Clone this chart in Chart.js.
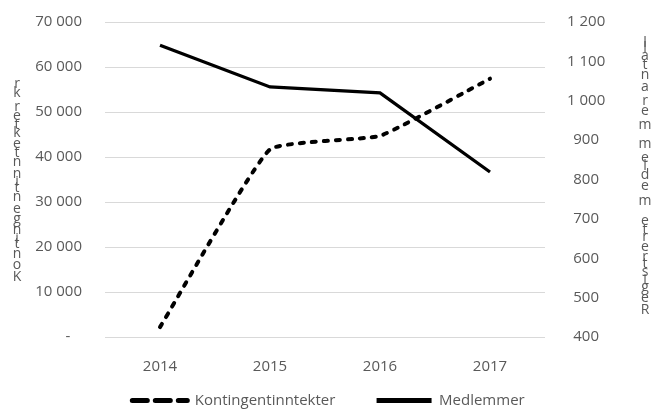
<!DOCTYPE html>
<html>
<head>
<meta charset="utf-8">
<script src="https://cdn.jsdelivr.net/npm/chart.js@4"></script>
<style>
  html, body { margin: 0; padding: 0; background: #fff; }
  #wrap { width: 657px; height: 411px; }
</style>
</head>
<body>
<div id="wrap"><canvas id="chart" width="657" height="411"></canvas></div>
<script>
// data
const years = ['2014', '2015', '2016', '2017'];
const kontingent = [2200, 41700, 44700, 57400];
const medlemmer = [1141, 1035, 1020, 819];

const leftTitle = 'Kontingentinntekter kr';
const rightTitle = 'Registrerte medlemmer antall';

const grey = '#595959';
const fontFamily = '"Open Sans", sans-serif';

function fmt(v) {
    if (v === 0) return '-   ';
    return String(v).replace(/\B(?=(\d{3})+(?!\d))/g, ' ');
}

// Excel style stacked axis titles (upright letters, read from bottom up)
const stackedTitles = {
    id: 'stackedTitles',
    afterDraw(chart) {
        const ctx = chart.ctx;
        const area = chart.chartArea;
        const mid = (area.top + area.bottom) / 2;
        ctx.save();
        ctx.font = '14px ' + fontFamily;
        ctx.fillStyle = grey;
        ctx.textAlign = 'center';
        ctx.textBaseline = 'middle';
        const drawStack = (text, x, span, shift) => {
            const chars = text.split('');
            const widths = chars.map(c => ctx.measureText(c).width);
            const k = span / widths.reduce((a, b) => a + b, 0);
            let y = mid + shift + span / 2;
            chars.forEach((c, i) => {
                y -= widths[i] * k / 2;
                ctx.fillText(c, x, y);
                y -= widths[i] * k / 2;
            });
        };
        drawStack(leftTitle, 17, 203, 2);
        drawStack(rightTitle, 645, 275, -1);
        ctx.restore();
    }
};

new Chart(document.getElementById('chart'), {
    type: 'line',
    data: {
        labels: years,
        datasets: [
            {
                label: 'Kontingentinntekter',
                data: kontingent,
                yAxisID: 'y',
                borderColor: '#000',
                backgroundColor: '#000',
                borderWidth: 4,
                borderDash: [4, 8],
                borderCapStyle: 'round',
                tension: 0.12,
                pointRadius: 0
            },
            {
                label: 'Medlemmer',
                data: medlemmer,
                yAxisID: 'y1',
                borderColor: '#000',
                backgroundColor: '#000',
                borderWidth: 3.3,
                tension: 0,
                pointRadius: 0
            }
        ]
    },
    options: {
        responsive: false,
        animation: false,
        layout: { padding: { top: 22, bottom: -7 } },
        plugins: {
            legend: {
                position: 'bottom',
                labels: {
                    usePointStyle: true,
                    pointStyle: 'line',
                    pointStyleWidth: 55,
                    color: grey,
                    padding: 10,
                    font: { family: fontFamily, size: 15 },
                    generateLabels(chart) {
                        const items = Chart.defaults.plugins.legend.labels.generateLabels(chart);
                        items.forEach((item, i) => {
                            const ds = chart.data.datasets[i];
                            // legend swatch uses longer dashes than the line itself
                            item.lineDash = ds.borderDash ? [15, 8] : [];
                            item.lineCap = ds.borderDash ? 'round' : 'butt';
                            item.lineWidth = 5;
                        });
                        // wider gap after the first entry, like the original
                        items[0].text = items[0].text + '        ';
                        return items;
                    }
                }
            },
            tooltip: { enabled: false }
        },
        scales: {
            x: {
                offset: true,
                afterFit(scale) { scale.height = 46; },
                grid: { display: false },
                border: { display: false },
                ticks: { color: grey, padding: 13, font: { family: fontFamily, size: 15 } }
            },
            y: {
                position: 'left',
                min: 0,
                max: 70000,
                afterFit(scale) { scale.width = 105; },
                grid: { color: '#d9d9d9', drawTicks: true, tickLength: 19, tickColor: 'rgba(0,0,0,0)' },
                border: { display: false },
                ticks: {
                    stepSize: 10000,
                    padding: 4,
                    color: grey,
                    font: { family: fontFamily, size: 15 },
                    callback: v => fmt(v)
                }
            },
            y1: {
                position: 'right',
                min: 400,
                max: 1200,
                afterFit(scale) { scale.width = 112; },
                grid: { color: 'rgba(0,0,0,0)', drawOnChartArea: false, drawTicks: true, tickLength: 18, tickColor: 'rgba(0,0,0,0)' },
                border: { display: false },
                ticks: {
                    stepSize: 100,
                    padding: 4,
                    crossAlign: 'center',
                    color: grey,
                    font: { family: fontFamily, size: 15 },
                    callback: v => fmt(v)
                }
            }
        }
    },
    plugins: [stackedTitles]
});
</script>
</body>
</html>
